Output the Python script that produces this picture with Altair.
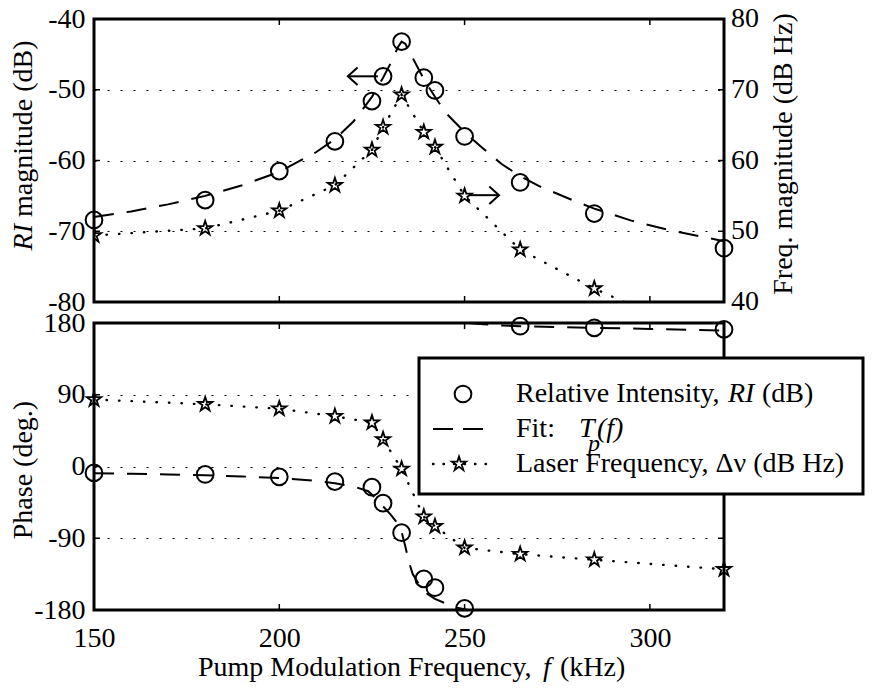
import altair as alt
import pandas as pd

FONT = "Liberation Serif"

# ---- measured points (pump modulation frequency, kHz) ----
freq = [150, 180, 200, 215, 225, 228, 233, 239, 242, 250, 265, 285, 320]
ri_mag = [-68.4, -65.6, -61.5, -57.3, -51.6, -48.1, -43.2, -48.3, -50.1, -56.6, -63.1, -67.5, -72.4]
dv_mag = [49.4, 50.4, 52.9, 56.5, 61.5, 64.7, 69.3, 64.0, 61.9, 55.0, 47.4, 41.9, 33.7]
ri_phase = [-8, -10, -13, -19, -26, -46, -83, -141, -152, -178, 176, 174, 172]
dv_phase = [84, 78, 72.5, 63, 55, 34, -3, -63, -75, -102, -110, -117, -129]

# ---- fit T_p(f) ----
fit_f = [150, 160, 170, 180, 190, 200, 210, 215, 220, 225, 228, 230, 232, 233, 234, 236,
         239, 242, 245, 250, 255, 260, 265, 270, 280, 285, 295, 305, 320]
fit_mag = [-68.0, -67.2, -66.2, -65.0, -63.5, -61.6, -58.8, -57.0, -54.5, -51.0, -48.3, -46.3,
           -44.0, -43.2, -43.5, -45.5, -48.5, -51.0, -53.3, -56.0, -58.3, -60.5, -62.2, -63.6,
           -65.8, -66.8, -68.5, -69.8, -71.4]
fitA_f = [150, 160, 170, 180, 190, 200, 210, 215, 220, 224, 226, 228, 230, 232, 233, 234,
          235, 236, 238, 240, 242, 245, 248, 251]
fitA_ph = [-8.5, -9, -10, -11, -12.5, -14.5, -18, -21, -25, -31, -40, -50, -60, -72, -82,
           -100, -120, -135, -150, -160, -166, -172, -177, -180]
fitB_f = [251, 255, 260, 265, 275, 285, 300, 320]
fitB_ph = [180, 178.5, 177, 176, 175, 174, 172.5, 170.5]

# ---- annotation arrows ----
arrowL_f = [218.5, 226.6]
arrowL_v = -48.1      # RI axis (dB)
arrowR_f = [251.2, 259.3]
arrowR_v = 55.1       # Freq. axis (dB Hz)

# tick values
x_ticks = [200, 250, 300]
magL_ticks = [-70, -60, -50]
magR_labels = [40, 50, 60, 70, 80]
magR_ticks = [50, 60, 70]
ph_ticks = [-90, 0, 90]
R_OFFSET = 120  # right (dB Hz) axis = left (dB) axis + 120

W, H1, H2 = 630, 283, 287
FS = 28
TX = -70  # x of the rotated left titles

meas = pd.DataFrame({"f": freq, "ri_mag": ri_mag, "dv_mag": dv_mag,
                     "ri_ph": ri_phase, "dv_ph": dv_phase})
fitm = pd.DataFrame({"f": fit_f, "v": fit_mag})
fitp = pd.concat([
    pd.DataFrame({"f": fitA_f, "v": fitA_ph, "seg": "a"}),
    pd.DataFrame({"f": fitB_f, "v": fitB_ph, "seg": "b"}),
], ignore_index=True)
arrL = pd.DataFrame({"f0": [arrowL_f[0]], "f1": [arrowL_f[1]], "v": [arrowL_v]})
arrR = pd.DataFrame({"f0": [arrowR_f[0]], "f1": [arrowR_f[1]], "r": [arrowR_v]})
xt = pd.DataFrame({"f": x_ticks})
one = pd.DataFrame({"k": [0]})

minus_expr = "datum.value < 0 ? '-' + abs(datum.value) : '' + datum.value"
to_left = f"datum.r - {R_OFFSET}"

xs = alt.Scale(domain=[150, 320], nice=False, zero=False)
axXB = alt.Axis(values=[150, 200, 250, 300], labelFont=FONT, labelFontSize=FS, labelColor="black",
                ticks=False, domain=False, grid=False, labelPadding=14, title=None,
                labelFlush=False, labelOverlap=False)


def Xtop(field):
    return alt.X(field, type="quantitative", scale=xs, axis=None)


def Xbot(field):
    return alt.X(field, type="quantitative", scale=xs, axis=axXB)


ysL = alt.Scale(domain=[-80, -40], nice=False, zero=False)
axL = alt.Axis(orient="left", values=[-80, -70, -60, -50, -40], grid=True, gridDash=[2, 11],
               gridColor="black", gridWidth=1.2, gridOpacity=1, ticks=False, domain=False,
               labelFont=FONT, labelFontSize=FS, labelColor="black", labelPadding=9, title=None,
               labelFlush=False, labelOverlap=False, labelExpr=minus_expr)
ysP = alt.Scale(domain=[-180, 180], nice=False, zero=False)
axP = alt.Axis(orient="left", values=[-180, -90, 0, 90, 180], grid=True, gridDash=[2, 11],
               gridColor="black", gridWidth=1.2, gridOpacity=1, ticks=False, domain=False,
               labelFont=FONT, labelFontSize=FS, labelColor="black", labelPadding=9, title=None,
               labelFlush=False, labelOverlap=False, labelExpr=minus_expr)


def YL(field):
    return alt.Y(field, type="quantitative", scale=ysL, axis=axL)


def YP(field):
    return alt.Y(field, type="quantitative", scale=ysP, axis=axP)


STAR = ("M0,-1 L0.2245,-0.309 L0.951,-0.309 L0.3633,0.118 L0.588,0.809 L0,0.382 "
        "L-0.588,0.809 L-0.3633,0.118 L-0.951,-0.309 L-0.2245,-0.309 Z")
HEAD_L = "M1,-0.9 L0,0 L1,0.9"
HEAD_R = "M-1,-0.9 L0,0 L-1,0.9"

circle_mk = dict(shape="circle", size=280, filled=False, color="black", strokeWidth=2, opacity=1)
star_mk = dict(shape=STAR, size=225, filled=False, color="black", strokeWidth=1.8, opacity=1)
dash_mk = dict(color="black", strokeWidth=2, strokeDash=[20, 13])
dot_mk = dict(color="black", strokeWidth=2.4, strokeDash=[0.5, 12], strokeCap="round")


def txt(text, x, y, size=FS, italic=False, angle=0, align="left", baseline="middle"):
    kw = dict(text=text, font=FONT, fontSize=size, color="black", align=align, baseline=baseline)
    if italic:
        kw["fontStyle"] = "italic"
    if angle:
        kw["angle"] = angle
    return alt.Chart(one).mark_text(**kw).encode(x=alt.value(x), y=alt.value(y))


def rule(**kw):
    return dict(color="black", strokeWidth=1.5, **kw)


# ---------------- top panel (one shared y scale; right axis drawn as text) ----------------
star_src = alt.Chart(meas).transform_calculate(r="datum.dv_mag").transform_calculate(v=to_left)
top = alt.layer(
    alt.Chart(fitm).mark_line(**dash_mk).encode(x=Xtop("f"), y=YL("v")),
    alt.Chart(meas).mark_point(**circle_mk).encode(x=Xtop("f"), y=YL("ri_mag")),
    star_src.mark_line(clip=True, **dot_mk).encode(x=Xtop("f"), y=YL("v:Q")),
    star_src.mark_point(clip=True, **star_mk).encode(x=Xtop("f"), y=YL("v:Q")),
    # arrows
    alt.Chart(arrL).mark_rule(color="black", strokeWidth=2).encode(x=Xtop("f0"), x2="f1", y=YL("v")),
    alt.Chart(arrL).mark_point(shape=HEAD_L, size=380, filled=False, color="black",
                               strokeWidth=2, opacity=1).encode(x=Xtop("f0"), y=YL("v")),
    alt.Chart(arrR).transform_calculate(v=to_left).mark_rule(color="black", strokeWidth=2).encode(
        x=Xtop("f0"), x2="f1", y=YL("v:Q")),
    alt.Chart(arrR).transform_calculate(v=to_left).mark_point(
        shape=HEAD_R, size=380, filled=False, color="black", strokeWidth=2, opacity=1).encode(
        x=Xtop("f1"), y=YL("v:Q")),
    # inward ticks
    alt.Chart(xt).mark_rule(**rule()).encode(x=Xtop("f"), y=alt.value(0), y2=alt.value(6)),
    alt.Chart(xt).mark_rule(**rule()).encode(x=Xtop("f"), y=alt.value(H1), y2=alt.value(H1 - 6)),
    alt.Chart(pd.DataFrame({"v": magL_ticks})).mark_rule(**rule()).encode(
        y=YL("v"), x=alt.value(0), x2=alt.value(6)),
    alt.Chart(pd.DataFrame({"r": magR_ticks})).transform_calculate(v=to_left).mark_rule(**rule()).encode(
        y=YL("v:Q"), x=alt.value(W - 6), x2=alt.value(W)),
    # right axis labels (dB Hz)
    alt.Chart(pd.DataFrame({"r": magR_labels})).transform_calculate(v=to_left).mark_text(
        font=FONT, fontSize=FS, color="black", align="left", baseline="middle").encode(
        y=YL("v:Q"), x=alt.value(W + 7), text="r:Q"),
    # axis titles
    txt("RI", TX, 205, italic=True, angle=270, align="right"),
    txt("magnitude (dB)", TX, 198, angle=270, align="left"),
    txt("Freq. magnitude (dB Hz)", W + 60, 135, angle=270, align="center"),
).properties(width=W, height=H1)

# ---------------- bottom panel ----------------
bottom = alt.layer(
    alt.Chart(fitp).mark_line(**dash_mk).encode(x=Xbot("f"), y=YP("v"), detail="seg:N"),
    alt.Chart(meas).mark_point(**circle_mk).encode(x=Xbot("f"), y=YP("ri_ph")),
    alt.Chart(meas).mark_line(**dot_mk).encode(x=Xbot("f"), y=YP("dv_ph")),
    alt.Chart(meas).mark_point(**star_mk).encode(x=Xbot("f"), y=YP("dv_ph")),
    alt.Chart(xt).mark_rule(**rule()).encode(x=Xbot("f"), y=alt.value(0), y2=alt.value(6)),
    alt.Chart(xt).mark_rule(**rule()).encode(x=Xbot("f"), y=alt.value(H2), y2=alt.value(H2 - 6)),
    alt.Chart(pd.DataFrame({"v": ph_ticks})).mark_rule(**rule()).encode(
        y=YP("v"), x=alt.value(0), x2=alt.value(6)),
    alt.Chart(pd.DataFrame({"v": ph_ticks})).mark_rule(**rule()).encode(
        y=YP("v"), x=alt.value(W - 6), x2=alt.value(W)),
    txt("Phase (deg.)", TX, 147, angle=270, align="center"),
    # x-axis title
    txt("Pump Modulation Frequency,", 104, 353, baseline="alphabetic"),
    txt("f", 449, 353, italic=True, baseline="alphabetic"),
    txt("(kHz)", 466, 353, baseline="alphabetic"),
    # legend
    alt.Chart(one).mark_rect(fill="white", stroke="black", strokeWidth=3).encode(
        x=alt.value(325), x2=alt.value(769), y=alt.value(35), y2=alt.value(171)),
    alt.Chart(one).mark_point(**circle_mk).encode(x=alt.value(369), y=alt.value(71)),
    alt.Chart(one).mark_rule(color="black", strokeWidth=2, strokeDash=[20, 10]).encode(
        x=alt.value(339), x2=alt.value(389), y=alt.value(106)),
    alt.Chart(one).mark_rule(color="black", strokeWidth=2.4, strokeDash=[0.5, 10], strokeCap="round").encode(
        x=alt.value(339), x2=alt.value(393), y=alt.value(141)),
    alt.Chart(one).mark_point(**star_mk).encode(x=alt.value(365), y=alt.value(141)),
    txt("Relative Intensity,", 422, 71),
    txt("RI", 634, 71, italic=True),
    txt("(dB)", 668, 71),
    txt("Fit:", 422, 106),
    txt("T", 485, 106, italic=True),
    txt("p", 494, 121, size=24, italic=True),
    txt("(f)", 503, 106, italic=True),
    txt("Laser Frequency, \u0394\u03bd (dB Hz)", 422, 141),
).properties(width=W, height=H2)

chart = alt.vconcat(top, bottom, spacing=21, bounds="flush").resolve_scale(
    x="independent", y="independent"
).properties(
    padding={"left": 0, "top": -5, "right": 0, "bottom": 0}
).configure(font=FONT).configure_view(stroke="black", strokeWidth=3)

chart.save("out.html", embed_options={"renderer": "svg", "actions": False})
